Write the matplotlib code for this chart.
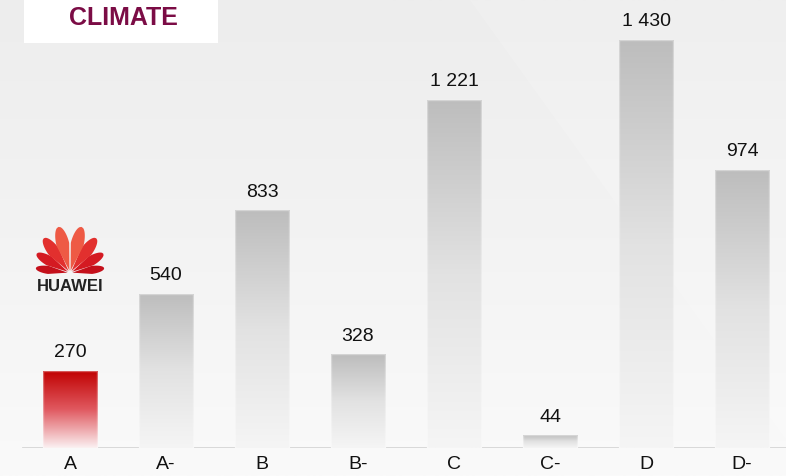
import numpy as np
import matplotlib.pyplot as plt
from matplotlib.patches import Rectangle, Polygon
from matplotlib.colors import LinearSegmentedColormap

# Data
categories = ['A', 'A-', 'B', 'B-', 'C', 'C-', 'D', 'D-']
values = [270, 540, 833, 328, 1221, 44, 1430, 974]
labels = ['270', '540', '833', '328', '1 221', '44', '1 430', '974']

W, H = 786, 476
fig = plt.figure(figsize=(W / 100, H / 100), dpi=100)

# background with soft vertical gradient
bg = fig.add_axes([0, 0, 1, 1])
bg.set_xlim(0, W)
bg.set_ylim(H, 0)
bg.axis('off')
bg_cmap = LinearSegmentedColormap.from_list('bg', ['#ededed', '#f3f3f3', '#fafafa'])
bg.imshow(np.linspace(0, 1, 200).reshape(-1, 1), cmap=bg_cmap, aspect='auto',
          extent=[0, W, H, 0], zorder=0)
bg.add_patch(Polygon([[470, 0], [786, 0], [786, 440]], closed=True,
                     facecolor='white', alpha=0.15, lw=0, zorder=1))

# title box
bg.add_patch(Rectangle((24, 0), 194, 43, facecolor='white', lw=0, zorder=2))
bg.text(123, 18, 'CLIMATE', fontsize=18, fontweight='bold', family='Liberation Sans',
        color='#7b0c45', ha='center', va='center', zorder=3)

# main axes
base_px = 448
scale = 408 / 1430
ax = fig.add_axes([0, (H - base_px) / H, 1, base_px / H])
ax.patch.set_alpha(0)
ax.set_xlim(-70 / 96, (W - 70) / 96)
ax.set_ylim(0, base_px / scale)
for s in ax.spines.values():
    s.set_visible(False)
ax.set_yticks([])
x = np.arange(len(categories))
ax.set_xticks(x)
ax.set_xticklabels(categories, fontsize=14, family='Liberation Sans', color='#111111')
ax.tick_params(axis='x', length=0, pad=6)
ax.axhline(0, xmin=23 / W, xmax=1, color='#d6d6d6', lw=2, zorder=1)

grey = LinearSegmentedColormap.from_list('grey', ['#f5f5f5', '#e2e2e2', '#bdbdbd'])
red = LinearSegmentedColormap.from_list('red', ['#fbf1f2', '#e0585f', '#c00000'])
grad = np.linspace(0, 1, 256).reshape(-1, 1)
bw = 0.57
for i, v in enumerate(values):
    cmap = red if i == 0 else grey
    bars = ax.bar(x[i], v, width=bw, color='none', edgecolor=(1, 1, 1, 0.35), lw=1, zorder=3)
    im = ax.imshow(grad, cmap=cmap, aspect='auto', origin='lower',
                   extent=[x[i] - bw / 2, x[i] + bw / 2, 0, v], zorder=2)
    im.set_clip_path(bars[0])
    ax.annotate(labels[i], (x[i], v), xytext=(0, 7), textcoords='offset points',
                ha='center', va='bottom', fontsize=14, family='Liberation Sans',
                color='#111111')

# Huawei logo (petals + text)
lg = fig.add_axes([30 / W, 1 - 300 / H, 80 / W, 82 / H])
lg.set_xlim(30, 110)
lg.set_ylim(300, 218)
lg.axis('off')
cx, cy = 70, 273


def petal(ang, L, wd, off=2.5):
    t = np.linspace(0, 1, 60)
    half = np.where(t < 0.6, wd / 2 * t / 0.6,
                    wd / 2 * np.sqrt(np.clip(1 - ((t - 0.6) / 0.4) ** 2, 0, 1)))
    u = off + np.concatenate([t, t[::-1]]) * L
    v = np.concatenate([half, -half[::-1]])
    r = np.deg2rad(ang)
    px = cx + u * np.cos(r) - v * np.sin(r)
    py = cy - (u * np.sin(r) + v * np.cos(r))
    return np.column_stack([px, py])


petals = [(172, 32, 8, '#c4101b'), (150, 36, 10, '#d41a22'),
          (127, 41, 12, '#e2302e'), (104, 45, 13, '#ee5a45')]
for ang, L, wd, col in petals:
    for a in (ang, 180 - ang):
        lg.add_patch(Polygon(petal(a, L, wd), closed=True, facecolor=col, lw=0))
lg.text(70, 287, 'HUAWEI', fontsize=12, fontweight='bold', family='Liberation Sans',
        color='#222222', ha='center', va='center')

fig.savefig('out.png', dpi=100)
